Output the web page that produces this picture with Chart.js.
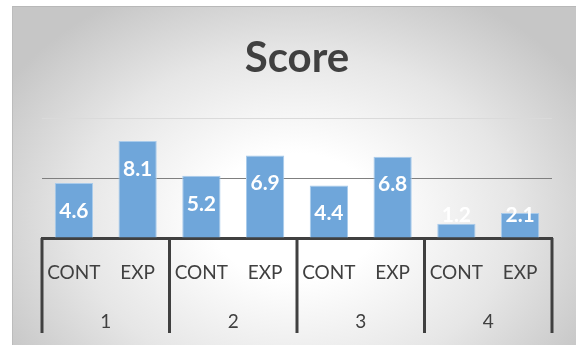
<!DOCTYPE html>
<html>
<head>
<meta charset="utf-8">
<script src="https://cdn.jsdelivr.net/npm/chart.js@4.4.0/dist/chart.umd.min.js"></script>
<style>
    html, body { margin: 0; padding: 0; background: #ffffff; }
    #wrap { position: relative; width: 576px; height: 345px; }
    #bg {
        position: absolute; left: 12px; top: 6px; right: 0; bottom: 0;
        background: radial-gradient(ellipse 60% 75% at 50% 62%, #ffffff 25%, #e6e6e6 65%, #c6c6c6 100%);
        border-top: 1px solid #b8b8b8;
        border-left: 1px solid #bcbcbc;
    }
    #chart { position: absolute; left: 0; top: 0; }
</style>
</head>
<body>
<div id="wrap">
    <div id="bg"></div>
    <canvas id="chart" width="576" height="345"></canvas>
</div>
<script>
// data
var groups = ['CONT', 'EXP', 'CONT', 'EXP', 'CONT', 'EXP', 'CONT', 'EXP'];
var sessions = ['1', '2', '3', '4'];
var scores = [4.6, 8.1, 5.2, 6.9, 4.4, 6.8, 1.2, 2.1];
var yTicks = [0, 5, 10];

var darkLine = '#404040';

// white value labels inside the top of each bar
var barLabels = {
    id: 'barLabels',
    afterDatasetsDraw: function (chart) {
        var ctx = chart.ctx;
        var meta = chart.getDatasetMeta(0);
        ctx.save();
        ctx.font = 'bold 21px Lato';
        ctx.fillStyle = '#ffffff';
        ctx.textAlign = 'center';
        ctx.textBaseline = 'middle';
        meta.data.forEach(function (bar, i) {
            var y = Math.min(bar.y + 28, bar.base - 22);
            ctx.fillText(scores[i].toFixed(1), bar.x, y);
        });
        ctx.restore();
    }
};

// vertical separators between the session groups
var groupLines = {
    id: 'groupLines',
    afterDraw: function (chart) {
        var ctx = chart.ctx;
        var x = chart.scales.x;
        var area = chart.chartArea;
        var xs = [area.left];
        for (var i = 1; i < sessions.length; i++) {
            xs.push((x.getPixelForTick(2 * i - 1) + x.getPixelForTick(2 * i)) / 2);
        }
        xs.push(area.right);
        ctx.save();
        ctx.strokeStyle = darkLine;
        ctx.lineWidth = 3;
        xs.forEach(function (px) {
            ctx.beginPath();
            ctx.moveTo(px, area.bottom);
            ctx.lineTo(px, 333);
            ctx.stroke();
        });
        ctx.restore();
    }
};

new Chart(document.getElementById('chart'), {
    type: 'bar',
    data: {
        labels: groups,
        datasets: [{
            label: 'Score',
            data: scores,
            backgroundColor: '#6fa6da',
            borderColor: '#a9cbeb',
            borderWidth: 1,
            barPercentage: 0.6,
            categoryPercentage: 1.0
        }]
    },
    options: {
        responsive: false,
        animation: false,
        layout: {padding: {left: 42, right: 24, top: 6, bottom: 9}},
        plugins: {
            legend: {display: false},
            tooltip: {enabled: false},
            title: {
                display: true,
                text: 'Score',
                color: '#404040',
                font: {family: 'Lato', size: 42, weight: 'bold'},
                padding: {top: 27, bottom: 35}
            }
        },
        scales: {
            x: {
                position: 'bottom',
                grid: {display: false},
                border: {display: true, color: darkLine, width: 3},
                ticks: {
                    color: '#404040',
                    font: {family: 'Lato', size: 19},
                    padding: 15,
                    maxRotation: 0
                },
                afterFit: function (scale) { scale.height = 58; }
            },
            x2: {
                type: 'category',
                position: 'bottom',
                labels: sessions,
                grid: {display: false},
                border: {display: false},
                ticks: {
                    color: '#404040',
                    font: {family: 'Lato', size: 19},
                    padding: 6,
                    maxRotation: 0
                },
                afterFit: function (scale) { scale.height = 40; }
            },
            y: {
                min: 0,
                max: 10,
                afterBuildTicks: function (scale) {
                    scale.ticks = yTicks.map(function (v) { return {value: v}; });
                },
                ticks: {display: false},
                border: {display: false},
                grid: {
                    drawTicks: false,
                    lineWidth: 1,
                    color: function (c) {
                        if (c.tick.value === 5) return '#7f7f7f';
                        if (c.tick.value === 10) return '#dadada';
                        return 'rgba(0,0,0,0)';
                    }
                },
                afterFit: function (scale) { scale.width = 0; }
            }
        }
    },
    plugins: [barLabels, groupLines]
});
</script>
</body>
</html>
